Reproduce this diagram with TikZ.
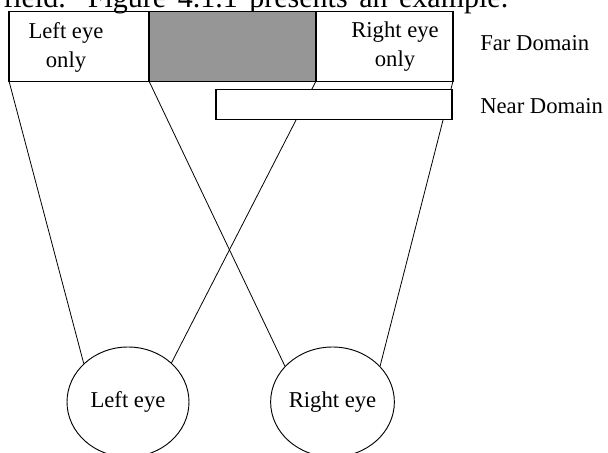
\documentclass[tikz,border=0pt]{standalone}
\usepackage{fontspec}
\setmainfont{Liberation Serif}
\usetikzlibrary{shapes.geometric}
\definecolor{bothgray}{RGB}{150,150,150}
\begin{document}
\begin{tikzpicture}[x=0.75pt,y=-0.75pt,
	cell/.style={draw,line width=0.8pt,minimum height=52.3pt,inner sep=0pt,outer sep=0pt},
	eye/.style={draw,ellipse,line width=0.7pt,minimum width=91.5pt,minimum height=82.5pt,inner sep=0pt,font=\fontsize{17}{21.8}\selectfont},
	lbl/.style={inner sep=0pt,font=\fontsize{17}{21.8}\selectfont,align=center},
	ray/.style={line width=0.6pt}]
	\useasboundingbox (0,0) rectangle (608,453);
	\clip (0,0) rectangle (608,453);
	\node[inner sep=0pt,anchor=base west,font=\fontsize{22.5}{27}\selectfont] (caption) at (3,7.3) {\makebox[378.75pt][s]{field. Figure 4.1.1 presents an example.}};
	\node[cell,minimum width=105pt] (leftonly) at (79,46.2) {};
	\node[cell,fill=bothgray,minimum width=125.25pt] (both) at (232.5,46.2) {};
	\node[cell,minimum width=102.75pt] (rightonly) at (384.5,46.2) {};
	\node[lbl,anchor=base] (lefttxt) at (66,68) {Left eye\\only};
	\node[lbl,anchor=base] (righttxt) at (395,67) {Right eye\\only};
	\node[lbl,anchor=base west] (far) at (480,50.7) {Far Domain};
	\node[lbl,anchor=base west] (near) at (480,113.3) {Near Domain};
	\node[eye] (lefteye) at (128,402) {Left eye};
	\node[eye] (righteye) at (332.5,402) {Right eye};
	\draw[ray] (leftonly.south west) -- (lefteye.139);
	\draw[ray] (leftonly.south east) -- (righteye.143);
	\draw[ray] (rightonly.south west) -- (lefteye.42);
	\draw[ray] (rightonly.south east) -- (righteye.37);
	\node[cell,fill=white,minimum width=177pt,minimum height=22.3pt] (nearbox) at (334,104.2) {};
\end{tikzpicture}
\end{document}
